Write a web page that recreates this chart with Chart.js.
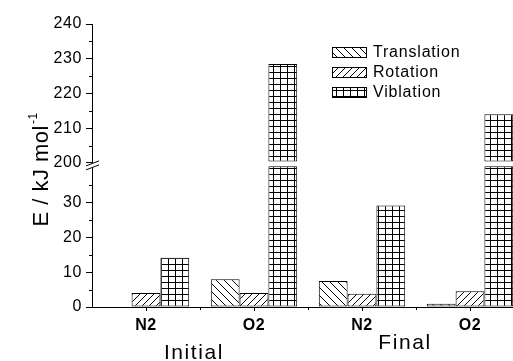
<!DOCTYPE html>
<html><head><meta charset="utf-8">
<script src="https://cdn.jsdelivr.net/npm/chart.js@4/dist/chart.umd.min.js"></script>
<style>
html,body{margin:0;padding:0;background:#fff;overflow:hidden;width:513px;height:361px}
#wrap{position:absolute;left:0;top:0;width:540px;height:361px}
</style>
</head><body><div id="wrap"><canvas id="c" width="540" height="361"></canvas></div>
<script>
// ---- data ----
const categories = ['N2', 'O2', 'N2', 'O2'];
const groups = ['Initial', 'Final'];
const groupMembers = [[0, 1], [2, 3]];
const seriesNames = ['Translation', 'Rotation', 'Viblation'];
const translation = [0, 8.0, 7.5, 0.9];
const rotation = [4.0, 4.0, 3.8, 4.5];
const viblation = [14.2, 228.5, 29.2, 214.0];
const lowTicks = [0, 10, 20, 30];
const highTicks = [200, 210, 220, 230, 240];
const lowRange = [0, 41.5];
const highRange = [200, 240];
const breakLow = 40.5;   // lower segment of a broken bar ends here
const breakHigh = 200.4; // upper segment of a broken bar starts here

const FONT = "'Liberation Sans', Arial, sans-serif";

function makePattern(kind) {
  const c = document.createElement('canvas');
  let w = 8, h = 8;
  if (kind === 'grid') { w = 7; h = 6; }
  if (kind === 'slash') { w = 7; h = 7; }
  c.width = w; c.height = h;
  const g = c.getContext('2d');
  g.fillStyle = '#fff'; g.fillRect(0, 0, w, h);
  g.strokeStyle = '#000'; g.lineWidth = 1;
  g.beginPath();
  if (kind === 'back') {
    for (let k = -1; k <= 1; k++) { g.moveTo(k * w, 0); g.lineTo(k * w + w, h); }
  } else if (kind === 'slash') {
    for (let k = -1; k <= 1; k++) { g.moveTo(k * w, h); g.lineTo(k * w + w, 0); }
  } else {
    g.moveTo(0.5, 0); g.lineTo(0.5, h);
    g.moveTo(0, 0.5); g.lineTo(w, 0.5);
  }
  g.stroke();
  return g.createPattern(c, 'repeat');
}
const patterns = [makePattern('back'), makePattern('slash'), makePattern('grid')];
const seriesValues = [translation, rotation, viblation];

const datasets = [];
seriesValues.forEach((vals, i) => {
  datasets.push({
    label: seriesNames[i], yAxisID: 'yLow', stack: 's' + i,
    data: vals.map(v => Math.min(v, breakLow)),
    backgroundColor: patterns[i], borderColor: '#000', borderWidth: 1, borderSkipped: false
  });
});
seriesValues.forEach((vals, i) => {
  datasets.push({
    label: seriesNames[i], yAxisID: 'yHigh', stack: 's' + i,
    data: vals.map(v => v > highRange[0] ? [breakHigh, v] : null),
    backgroundColor: patterns[i], borderColor: '#000', borderWidth: 1, borderSkipped: false
  });
});

function yScale(range, ticksArr, weight) {
  return {
    type: 'linear', position: 'left', stack: 'y', stackWeight: weight, stacked: false,
    min: range[0], max: range[1],
    afterBuildTicks(s) { s.ticks = ticksArr.map(v => ({ value: v })); },
    afterFit(s) { s.width = 92; },
    grid: { drawOnChartArea: false, drawTicks: true, tickLength: 6, color: '#000', lineWidth: 1 },
    border: { display: true, color: '#000', width: 1 },
    ticks: { color: '#000', font: { family: FONT, size: 16 }, padding: 4, autoSkip: false }
  };
}

const extras = {
  id: 'extras',
  beforeDraw(chart) { chart.ctx.letterSpacing = '0.6px'; },
  afterDraw(chart) {
    const c = chart.ctx;
    const x = chart.scales.x, yl = chart.scales.yLow, yh = chart.scales.yHigh;
    c.save();
    c.strokeStyle = '#000'; c.lineWidth = 1;
    // minor y ticks
    c.beginPath();
    lowTicks.map(v => v + 5).forEach(v => {
      const p = Math.round(yl.getPixelForValue(v)) + 0.5;
      c.moveTo(yl.right - 3, p); c.lineTo(yl.right, p);
    });
    highTicks.slice(0, -1).map(v => v + 5).forEach(v => {
      const p = Math.round(yh.getPixelForValue(v)) + 0.5;
      c.moveTo(yh.right - 3, p); c.lineTo(yh.right, p);
    });
    // minor x ticks at category boundaries
    for (let i = 0; i < categories.length - 1; i++) {
      const p = Math.round((x.getPixelForValue(i) + x.getPixelForValue(i + 1)) / 2) + 0.5;
      c.moveTo(p, x.top); c.lineTo(p, x.top + 3);
    }
    c.stroke();
    // axis break marks
    const ax = yl.right, by = yl.top;
    c.fillStyle = '#fff';
    c.beginPath();
    c.moveTo(ax - 6, by + 3); c.lineTo(ax + 7, by - 2); c.lineTo(ax + 7, by + 2); c.lineTo(ax - 6, by + 7); c.closePath();
    c.fill();
    c.beginPath();
    c.moveTo(ax - 6, by + 3); c.lineTo(ax + 7, by - 2);
    c.moveTo(ax - 6, by + 7); c.lineTo(ax + 7, by + 2);
    c.stroke();
    // y title
    c.letterSpacing = '0.5px';
    c.fillStyle = '#000';
    c.translate(48, 170);
    c.rotate(-Math.PI / 2);
    c.font = '22px ' + FONT;
    const main = 'E / kJ mol';
    const wm = c.measureText(main).width;
    c.font = '12px ' + FONT;
    const sup = '-1';
    const ws = c.measureText(sup).width;
    const start = -(wm + ws) / 2;
    c.font = '22px ' + FONT;
    c.textAlign = 'left'; c.textBaseline = 'alphabetic';
    c.fillText(main, start, 0);
    c.font = '12px ' + FONT;
    c.fillText(sup, start + wm + 1, -11);
    c.setTransform(1, 0, 0, 1, 0, 0);
    // group labels
    c.font = '21px ' + FONT;
    c.letterSpacing = '1.6px';
    c.textAlign = 'center';
    const gBase = [359, 349];
    const gShift = [-6, -11];
    groups.forEach((gname, gi) => {
      const m = groupMembers[gi];
      const cx = m.reduce((a, i) => a + x.getPixelForValue(i), 0) / m.length + gShift[gi];
      c.fillText(gname, cx, gBase[gi]);
    });
    // legend
    c.letterSpacing = '0.8px';
    c.font = '16px ' + FONT;
    c.textAlign = 'left'; c.textBaseline = 'middle';
    seriesNames.forEach((n, i) => {
      const top = 47 + i * 20;
      c.fillStyle = patterns[i];
      c.fillRect(332, top, 35, 10);
      c.strokeStyle = '#000';
      c.strokeRect(332.5, top + 0.5, 34, 10);
      c.fillStyle = '#000';
      c.fillText(n, 373, top + 5.5);
    });
    c.letterSpacing = '0px';
    c.restore();
    c.letterSpacing = '0px';
  }
};

new Chart(document.getElementById('c'), {
  type: 'bar',
  data: { labels: categories, datasets },
  options: {
    responsive: false, animation: false, events: [],
    layout: { padding: { top: 24, right: 16, left: 0, bottom: 0 } },
    datasets: { bar: { categoryPercentage: 0.8, barPercentage: 1.0 } },
    plugins: { legend: { display: false }, tooltip: { enabled: false } },
    scales: {
      x: {
        type: 'category', offset: true,
        afterFit(s) { s.height = 54; },
        grid: { offset: false, drawOnChartArea: false, drawTicks: true, tickLength: 4, color: '#000', lineWidth: 1 },
        border: { display: true, color: '#000', width: 1 },
        ticks: { color: '#000', font: { family: FONT, size: 16, weight: 'bold' }, padding: 5, maxRotation: 0, autoSkip: false }
      },
      yLow: yScale(lowRange, lowTicks, lowRange[1] - lowRange[0]),
      yHigh: yScale(highRange, highTicks, highRange[1] - highRange[0])
    }
  },
  plugins: [extras]
});
</script>
</body></html>
